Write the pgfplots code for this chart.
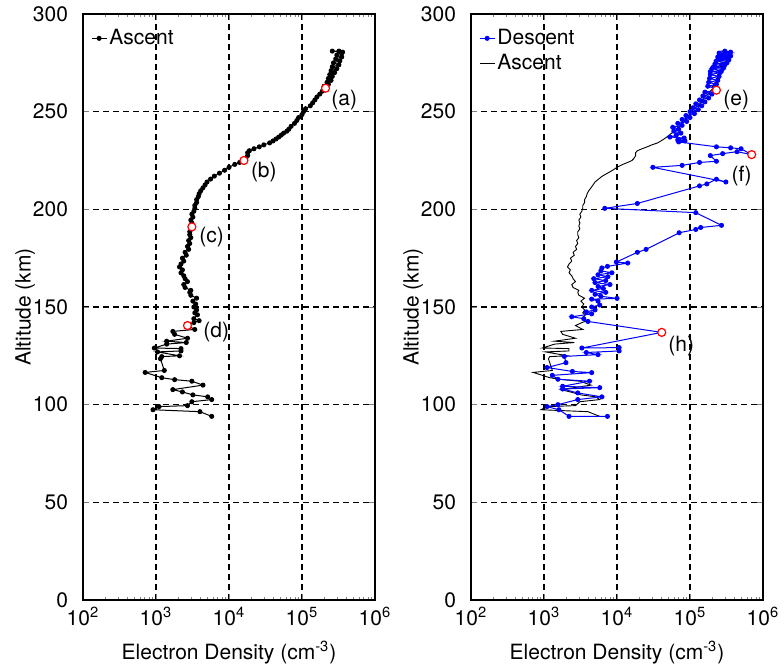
\documentclass[border=0pt]{standalone}
\usepackage{fontspec}
\setmainfont{TeX Gyre Heros}
\usepackage{pgfplots}
\usepackage{pgfplotstable}
\pgfplotsset{compat=1.18}

\pgfplotstableread{
n alt
5.8e3 94
4.0e3 96.4
9.1e2 97.4
1.1e3 99
2.7e3 99.5
3.1e3 101.5
5.8e3 102.6
5.1e3 104
3.2e3 105
2.3e3 106.5
1.7e3 107.7
4.4e3 110
3.1e3 112
1.8e3 112.8
1.2e3 113.8
7.1e2 116.5
1.3e3 117.5
1.15e3 123.5
1.2e3 124.6
2.1e3 125
1.05e3 127
2.2e3 127.5
2.2e3 128.7
9.5e2 129
1.4e3 131
2.6e3 131.8
1.4e3 132.5
2.7e3 134
1.8e3 136
1.7e3 137.5
3.4e3 138.5
2.7e3 140.5
3.3e3 142
3.9e3 143
3.3e3 144
3.7e3 146
3.4e3 147
3.6e3 148.5
3.3e3 150
3.5e3 151.5
3.2e3 153
3.6e3 154.5
3.0e3 156
2.9e3 157.5
3.0e3 158.5
2.5e3 160
2.4e3 161.5
2.7e3 163
2.5e3 164.5
2.4e3 166
2.2e3 167.5
2.3e3 169
2.1e3 170.5
2.2e3 172
2.4e3 173.5
2.3e3 175
2.6e3 176.5
2.5e3 178
2.8e3 179.5
2.7e3 181
2.9e3 182.5
2.8e3 184
3.0e3 185.5
2.9e3 187
2.9e3 188.5
3.1e3 190
3.0e3 191.5
3.1e3 193
3.0e3 194.5
3.2e3 196
3.1e3 197.5
3.3e3 199
3.4e3 200.5
3.4e3 202
3.6e3 203.5
3.6e3 205
3.8e3 206.5
3.9e3 208
4.1e3 209.5
4.4e3 211
4.7e3 212.5
5.0e3 214
5.6e3 215.5
6.3e3 217
7.4e3 218.5
8.7e3 220
1.0e4 221.5
1.2e4 223
1.4e4 224
1.6e4 225
1.7e4 226
1.8e4 227.5
1.8e4 229
1.9e4 230
2.2e4 231
2.6e4 232
3.0e4 233
3.6e4 234
4.0e4 235
4.4e4 236
4.8e4 237
5.2e4 238
5.6e4 239
6.2e4 240
6.6e4 241
7.1e4 242.5
7.9e4 244
8.5e4 245.5
9.0e4 247
1.0e5 248.5
1.05e5 250
1.12e5 251.5
1.3e5 253
1.4e5 254.5
1.5e5 256
1.6e5 257.5
1.75e5 259
1.9e5 260.5
2.1e5 262
2.0e5 263
2.3e5 264
2.2e5 265
2.5e5 266
2.3e5 267
2.6e5 268
2.4e5 269
2.8e5 270
2.5e5 271
3.0e5 272
2.6e5 273
3.2e5 274
2.7e5 275
3.3e5 276
2.9e5 277
3.5e5 278
3.0e5 279
3.5e5 280
3.2e5 281
2.6e5 281
3.6e5 280.5
}\ascent

\pgfplotstableread{
n alt
3.0e5 281
3.6e5 280.5
2.5e5 280
3.5e5 279.5
2.7e5 279
3.6e5 278.5
2.4e5 278
3.3e5 277.5
2.6e5 277
3.4e5 276.5
2.3e5 276
3.2e5 275
2.2e5 274.5
3.0e5 274
2.1e5 273
2.9e5 272.5
2.0e5 272
2.7e5 271
1.9e5 270.5
2.6e5 270
1.9e5 269
2.5e5 268
1.85e5 267
2.4e5 266
1.8e5 265
2.3e5 264
1.75e5 263
2.2e5 262
2.3e5 261
1.6e5 260
2.0e5 259
1.5e5 258
1.8e5 257
1.35e5 256
1.6e5 255
1.2e5 254
1.45e5 253
1.1e5 252
1.3e5 251
1.0e5 250
1.15e5 249
8.8e4 248
1.0e5 247
7.8e4 246
9.0e4 245
6.8e4 244
7.8e4 243
5.8e4 242
7.0e4 241
6.0e4 240
7.5e4 239
6.5e4 238
5.3e4 237
8.3e4 236.5
6.8e4 235.5
8.5e4 235
7.0e4 234.5
2.3e5 232
3.6e5 231.5
5.0e5 231
7.0e5 228
4.4e5 229.5
2.8e5 228.5
1.9e5 227.5
2.3e5 224.6
1.35e5 224
7.8e4 222.5
3.1e4 221.5
3.1e5 214
2.3e5 215.4
1.7e5 213
1.35e5 212
1.9e4 203
6.8e3 200.5
1.2e5 198.3
2.7e5 191.8
1.4e5 190.7
1.2e5 189.7
7.1e4 188
2.5e4 179.5
1.9e4 178
9.8e3 173
1.4e4 172.5
7.4e3 170.8
6.2e3 170
6.0e3 168.5
8.5e3 167.5
5.5e3 166.5
7.5e3 165.5
4.8e3 164.5
7.0e3 163.5
5.0e3 162.5
8.0e3 161.5
5.5e3 160.5
6.5e3 159.5
4.5e3 158.5
7.0e3 157.5
5.0e3 156.5
6.0e3 155.5
1.0e4 154.4
4.5e3 154
5.5e3 153
5.8e3 151
4.5e3 150
5.0e3 148.5
3.8e3 147.5
4.5e3 146.5
2.4e3 145
3.5e3 144
4.0e3 142.6
4.1e4 137
3.3e3 129
1.07e4 129.2
1.07e4 127.5
3.8e3 126.7
5.5e3 125.6
1.9e3 124.7
2.0e3 121.5
1.1e3 119
2.45e3 117
4.5e3 116.4
1.3e3 115
1.55e3 113
4.2e3 112
1.8e3 109.4
5.8e3 108.7
1.8e3 108
2.9e3 106
6.2e3 104
2.9e3 102.6
1.55e3 100
1.1e3 99
1.6e3 97.4
2.2e3 94
7.4e3 94
}\descent

\tikzset{lbl/.style={font=\fontsize{10.5}{12}\selectfont}}
\newcommand{\fs}{\fontsize{10.5}{12}\selectfont}

\begin{document}
\begin{tikzpicture}
\path[use as bounding box] (-41.5pt,-36pt) rectangle (350.5pt,300pt);

\begin{axis}[at={(0pt,0pt)}, anchor=south west,
    scale only axis, width=146pt, height=293pt,
    xmode=log, xmin=1e2, xmax=1e6, ymin=0, ymax=300,
    xtick={1e2,1e3,1e4,1e5,1e6},
    xticklabels={10\textsuperscript{2},10\textsuperscript{3},10\textsuperscript{4},10\textsuperscript{5},10\textsuperscript{6}},
    ytick={0,50,100,150,200,250,300},
    yticklabel style={/pgf/number format/assume math mode=true, xshift=-4pt},
    tick align=inside,
    major tick length=3pt, minor tick length=1.6pt,
    axis line style={line width=1.2pt},
    grid=major,
    major grid style={black, line width=0.65pt, dash pattern=on 3pt off 2pt},
    tick label style={font=\fs},
    xlabel={Electron Density (cm\textsuperscript{-3})},
    ylabel={Altitude (km)},
    every axis y label/.style={at={(axis description cs:-0.198,0.5)}, rotate=90, anchor=center, font=\fs},
    every axis x label/.style={at={(axis description cs:0.5,-0.089)}, anchor=center, font=\fs},
    legend style={at={(axis description cs:0.02,0.985)}, anchor=north west, draw=none, fill=none, font=\fs, inner sep=1pt, nodes={inner xsep=1.2pt}, row sep=-0.5pt},
    legend cell align=left,
    legend image code/.code={\draw[mark repeat=2,mark phase=2,#1] plot coordinates {(0cm,0cm) (0.13cm,0cm) (0.26cm,0cm)};},
  ]
\addplot[black, line width=0.5pt, mark=*, mark size=1.0pt] table[x=n,y=alt]{\ascent};
\addlegendentry{Ascent}
\addplot[only marks, mark=*, mark size=2pt, draw=red, fill=white, mark options={line width=0.6pt}, forget plot] coordinates {(2.1e5,262) (1.6e4,225) (3.1e3,191) (2.7e3,140.5)};
\node[lbl] at (3.8e5,256) {(a)};
\node[lbl] at (3.0e4,219) {(b)};
\node[lbl] at (5.8e3,185.6) {(c)};
\node[lbl] at (6.7e3,137) {(d)};
\end{axis}

\begin{axis}[at={(194pt,0pt)}, anchor=south west,
    scale only axis, width=146pt, height=293pt,
    xmode=log, xmin=1e2, xmax=1e6, ymin=0, ymax=300,
    xtick={1e2,1e3,1e4,1e5,1e6},
    xticklabels={10\textsuperscript{2},10\textsuperscript{3},10\textsuperscript{4},10\textsuperscript{5},10\textsuperscript{6}},
    ytick={0,50,100,150,200,250,300},
    yticklabel style={/pgf/number format/assume math mode=true, xshift=-4pt},
    tick align=inside,
    major tick length=3pt, minor tick length=1.6pt,
    axis line style={line width=1.2pt},
    grid=major,
    major grid style={black, line width=0.65pt, dash pattern=on 3pt off 2pt},
    tick label style={font=\fs},
    xlabel={Electron Density (cm\textsuperscript{-3})},
    ylabel={Altitude (km)},
    every axis y label/.style={at={(axis description cs:-0.198,0.5)}, rotate=90, anchor=center, font=\fs},
    every axis x label/.style={at={(axis description cs:0.5,-0.089)}, anchor=center, font=\fs},
    legend style={at={(axis description cs:0.02,0.985)}, anchor=north west, draw=none, fill=none, font=\fs, inner sep=1pt, nodes={inner xsep=1.2pt}, row sep=-0.5pt},
    legend cell align=left,
    legend image code/.code={\draw[mark repeat=2,mark phase=2,#1] plot coordinates {(0cm,0cm) (0.13cm,0cm) (0.26cm,0cm)};},
    reverse legend,
  ]
\addplot[black, line width=0.45pt] table[x=n,y=alt]{\ascent};
\addlegendentry{Ascent}
\addplot[blue, line width=0.5pt, mark=*, mark size=1.0pt] table[x=n,y=alt]{\descent};
\addlegendentry{Descent}
\addplot[only marks, mark=*, mark size=2pt, draw=red, fill=white, mark options={line width=0.6pt}, forget plot] coordinates {(2.3e5,261) (7.0e5,228) (4.1e4,137)};
\node[lbl] at (4.3e5,256) {(e)};
\node[lbl] at (5.1e5,217) {(f)};
\node[lbl] at (7.6e4,130) {(h)};
\end{axis}
\end{tikzpicture}
\end{document}
